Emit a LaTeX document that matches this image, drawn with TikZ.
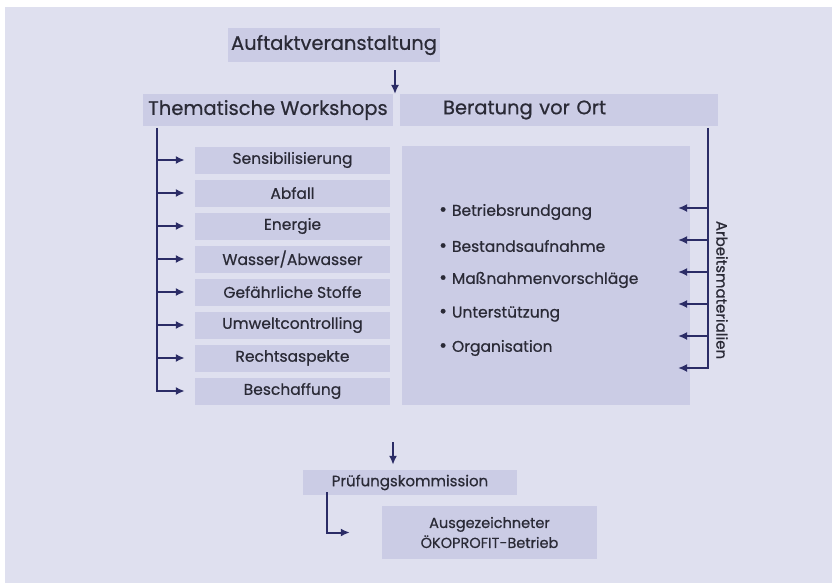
\documentclass[tikz,border=0pt]{standalone}
\usepackage{fontspec}
\setmainfont{Poppins}[FakeBold=0.6]
\usetikzlibrary{arrows.meta,calc,positioning}
\definecolor{bg}{HTML}{DFE0EF}
\definecolor{boxfill}{HTML}{CBCCE5}
\definecolor{ink}{HTML}{2B2C66}
\definecolor{txt}{HTML}{2A2A36}
\tikzset{
	box/.style={fill=boxfill, inner sep=0pt, text=txt, font=\fontsize{15.5}{17}\selectfont},
	head/.style={box, font=\fontsize{19.5}{22}\selectfont},
	bul/.style={anchor=west, inner sep=0pt, text=txt, font=\fontsize{15.5}{18}\selectfont},
	arr/.style={draw=ink, line width=2pt, -{Latex[length=9pt,width=8pt]}},
	wire/.style={draw=ink, line width=2pt}
}
\begin{document}
\begin{tikzpicture}[x=1pt,y=-1pt]
	\useasboundingbox (0,0) rectangle (832,583);
	\fill[bg] (5,7) rectangle (832,583);
	\node[head, minimum width=212pt, minimum height=34pt] (auft) at (334,45) {Auftaktveranstaltung};
	\node[head, minimum width=250pt, minimum height=32pt] (wshead) at (268,110) {Thematische Workshops};
	\node[head, minimum height=32pt, text width=232pt, inner xsep=43pt, align=left] (berhead) at (559,110) {Beratung vor Ort};
	\coordinate (split) at (395,94);
	\draw[arr, shorten <=8pt] (auft.south -| split) -- (split);

	\foreach \name/\label [count=\i] in {sens/Sensibilisierung, abfall/Abfall, energie/Energie, wasser/{Wasser/Abwasser}, stoffe/Gefährliche Stoffe, controlling/Umweltcontrolling, recht/Rechtsaspekte, beschaffung/Beschaffung}
		\node[box, minimum width=195pt, minimum height=27pt] (\name) at (292.5,127+33*\i) {\label};
	\coordinate (wstop) at (157,128);
	\foreach \name in {sens, abfall, energie, wasser, stoffe, controlling, recht}
		\draw[arr, shorten >=10pt] (wstop |- \name.west) -- (\name.west);
	\draw[arr, shorten >=10pt] (wstop) |- (beschaffung.west);

	\node[box, minimum width=288pt, minimum height=259pt] (berbox) at (546,275.5) {};
	\foreach \label [count=\i] in {Betriebsrundgang, Bestandsaufnahme, Maßnahmenvorschläge, Unterstützung, Organisation}
		\node[bul] (b\i) at (439,178+34*\i) {{\fontsize{19}{18}\selectfont•}\hspace{5pt}\label};
	\coordinate (mtop) at (708,128);
	\foreach \y [count=\i] in {208,240,272,304,336,368}
		\coordinate (m\i) at (678,\y);
	\foreach \i in {1,...,5}
		\draw[arr] (mtop |- m\i) -- (m\i);
	\draw[arr] (mtop) |- (m6);
	\node[rotate=-90, inner sep=0pt, text=txt, font=\fontsize{15}{17}\selectfont] (mat) at (722,290) {Arbeitsmaterialien};

	\node[box, minimum width=214pt, minimum height=25pt, font=\fontsize{15}{17}\selectfont] (pruef) at (410,482.5) {Prüfungskommission};
	\node[box, minimum width=215pt, minimum height=53pt, align=center, font=\fontsize{14.5}{20}\selectfont] (ausg) at (489.5,532.5) {Ausgezeichneter\\ÖKOPROFIT-Betrieb};
	\coordinate (join) at (393,442);
	\draw[arr, shorten >=5pt] (join) -- (pruef.north -| join);
	\draw[arr, shorten >=32pt] ([xshift=-83pt,yshift=3pt]pruef.south) |- (ausg.west);
\end{tikzpicture}
\end{document}
